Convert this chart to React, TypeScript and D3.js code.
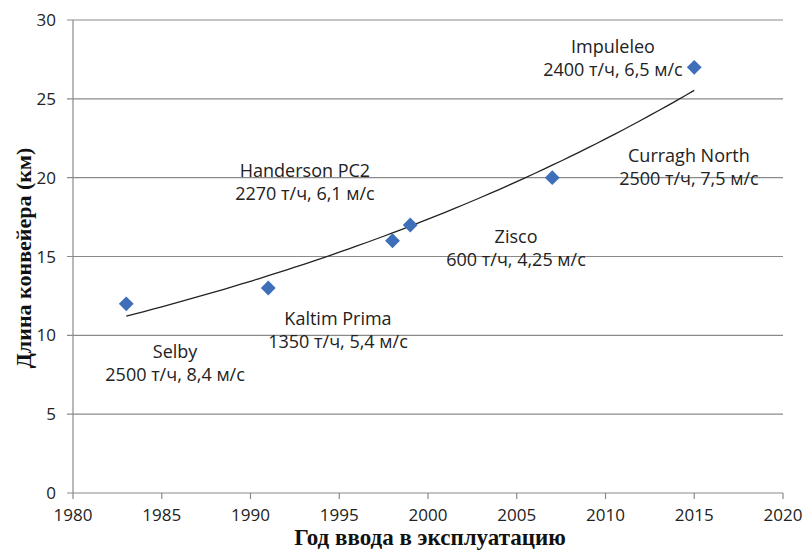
import React from "react";
import * as d3 from "d3";

const years = [1983, 1991, 1998, 1999, 2007, 2015];
const lengths = [12, 13, 16, 17, 20, 27];
const xTicks = [1980, 1985, 1990, 1995, 2000, 2005, 2010, 2015, 2020];
const yTicks = [0, 5, 10, 15, 20, 25, 30];
const labelNames = ["Selby", "Kaltim Prima", "Handerson PC2", "Zisco", "Curragh North", "Impuleleo"];
const labelDetails = ["2500 т/ч, 8,4 м/с", "1350 т/ч, 5,4 м/с", "2270 т/ч, 6,1 м/с", "600 т/ч, 4,25 м/с", "2500 т/ч, 7,5 м/с", "2400 т/ч, 6,5 м/с"];
const labelYears = [1985.75, 1994.93, 1993.07, 2004.96, 2014.7, 2010.42];
const labelValues = [8.56, 10.66, 20.04, 15.86, 20.99, 27.91];

export default function App() {
  const W = 804, H = 553;
  const x = d3.scaleLinear().domain([1980, 2020]).range([73, 783]);
  const y = d3.scaleLinear().domain([0, 30]).range([493, 20]);

  // Exponential trend (least squares on ln y)
  const lx = years, ly = lengths.map(Math.log);
  const mx = d3.mean(lx)!, my = d3.mean(ly)!;
  let sxy = 0, sxx = 0;
  lx.forEach((v, i) => { sxy += (v - mx) * (ly[i] - my); sxx += (v - mx) ** 2; });
  const b = sxy / sxx;
  const a = my - b * mx;
  const trendPts = d3.range(1983, 2015.01, 0.5).map(t => [t, Math.exp(a + b * t)] as [number, number]);
  const line = d3.line<[number, number]>().x(d => x(d[0])).y(d => y(d[1]));

  const font = "'Open Sans', Lato, sans-serif";
  const serif = "'Liberation Serif', 'DejaVu Serif', serif";
  const diamond = d3.symbol().type(d3.symbolDiamond2 ?? d3.symbolDiamond).size(140)();

  return (
    <svg width={W} height={H} style={{ position: "absolute", left: 0, top: 0, background: "#fff" }}>
      <rect width={W} height={H} fill="#fff" />
      {yTicks.map(t => (
        <g key={"y" + t}>
          <line x1={67} x2={783} y1={y(t)} y2={y(t)} stroke="#8a8a8a" strokeWidth={1.2} />
          <text x={56} y={y(t) + 6} textAnchor="end" fontFamily={font} fontSize={17} fill="#222">{t}</text>
        </g>
      ))}
      <line x1={73} x2={73} y1={20} y2={493} stroke="#8a8a8a" strokeWidth={1.2} />
      {xTicks.map(t => (
        <g key={"x" + t}>
          <line x1={x(t)} x2={x(t)} y1={493} y2={499} stroke="#8a8a8a" strokeWidth={1.2} />
          <text x={x(t)} y={521} textAnchor="middle" fontFamily={font} fontSize={17} fill="#222">{t}</text>
        </g>
      ))}
      <path d={line(trendPts)!} fill="none" stroke="#222" strokeWidth={1.3} />
      {years.map((yr, i) => (
        <path key={"p" + i} d={diamond!} transform={`translate(${x(yr)},${y(lengths[i])})`} fill="#3e6fb8" />
      ))}
      {labelNames.map((n, i) => (
        <g key={"l" + i}>
          <text x={x(labelYears[i])} y={y(labelValues[i])} textAnchor="middle" fontFamily={font} fontSize={18} fill="#222">{n}</text>
          <text x={x(labelYears[i])} y={y(labelValues[i]) + 23} textAnchor="middle" fontFamily={font} fontSize={18} fill="#222">{labelDetails[i]}</text>
        </g>
      ))}
      <text transform="translate(31,258) rotate(-90)" textAnchor="middle" fontFamily={serif} fontWeight="bold" fontSize={22} fill="#111">Длина конвейера (км)</text>
      <text x={430} y={545} textAnchor="middle" fontFamily={serif} fontWeight="bold" fontSize={23} fill="#111">Год ввода в эксплуатацию</text>
    </svg>
  );
}
